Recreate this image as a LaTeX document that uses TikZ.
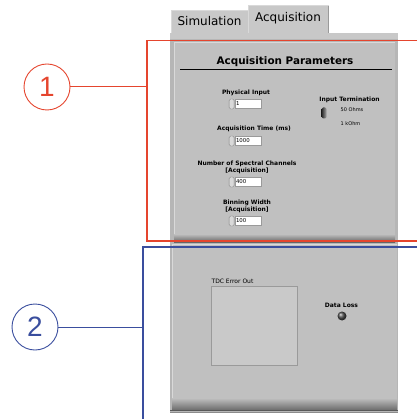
\documentclass[tikz,border=0pt]{standalone}
\usepackage{fontspec}
\setmainfont{DejaVu Sans}
\newfontfamily\numfont{Liberation Sans}
\usetikzlibrary{positioning}

\definecolor{calloutred}{HTML}{E5452E}
\definecolor{calloutblue}{HTML}{3A4E9E}
\definecolor{panelgray}{HTML}{C0C0C0}
\definecolor{tabgray}{HTML}{C8C8C8}
\definecolor{edgegray}{HTML}{9A9A9A}
\definecolor{boxgray}{HTML}{C9C9C9}

\tikzset{
  lbl/.style={font=\fontsize{6}{7.2}\selectfont\bfseries, align=center, inner sep=0pt},
  small/.style={font=\fontsize{5}{6}\selectfont, inner sep=0pt},
  numbox/.style={draw=edgegray, fill=white, minimum width=26pt, minimum height=9pt,
    inner sep=1pt, text width=24pt, align=left, font=\fontsize{5.4}{6}\selectfont},
  spinner/.style={draw=gray, fill=white!85!black, rounded corners=1.5pt,
    minimum width=5pt, minimum height=10pt, inner sep=0pt},
  tabtext/.style={font=\fontsize{12}{14}\selectfont, inner sep=0pt},
  callout/.style={circle, draw, line width=0.9pt, minimum size=46pt, inner sep=0pt,
    font=\fontsize{28}{28}\selectfont\numfont},
  bracket/.style={line width=1.4pt}
}

\begin{document}
\begin{tikzpicture}[x=1pt, y=-1pt]
  \useasboundingbox (0,0) rectangle (417,419);

  % tabs
  \draw[fill=tabgray, draw=white!85!black] (171,33) -- (171,10) -- (248,10) -- (248,33);
  \node[tabtext] (simtab) at (209.5,21.5) {Simulation};
  \draw[fill=tabgray, draw=white!85!black] (248,34) -- (248,5) -- (328,5) -- (328,34);
  \draw[edgegray] (328,6) -- (328,33);
  \node[tabtext] (acqtab) at (288,18.5) {Acquisition};

  % panel
  \fill[panelgray!95!black] (170,33) rectangle (398,413);
  \fill[tabgray] (170,33) rectangle (398,39);
  \fill[panelgray] (174,42) rectangle (395,241);
  \draw[white!85!black] (174,241) -- (174,42) -- (395,42);
  \shade[top color=panelgray, bottom color=gray!80!black] (174,234) rectangle (395,242);
  \fill[panelgray] (172,244) rectangle (397,405);
  \draw[white!85!black] (172,405) -- (172,244) -- (397,244);
  \shade[top color=panelgray, bottom color=gray!85!black] (172,398) rectangle (397,410);
  \draw[gray!70!black] (170,410.5) -- (398,410.5);
  \draw[gray!90] (170,412.5) -- (398,412.5);

  % acquisition parameters
  \node[font=\fontsize{10.4}{12}\selectfont\bfseries, inner sep=0pt] (title) at (285,62) {Acquisition Parameters};
  \draw[line width=0.8pt] (180,69) -- (392,69);

  \node[lbl] (physlbl) at (246,93) {Physical Input};
  \node[numbox] (physbox) at (248,104) {1};
  \node[spinner, left=0.5pt of physbox] (physspin) {};

  \node[lbl] (timelbl) at (254,129) {Acquisition Time (ms)};
  \node[numbox] (timebox) at (248,141) {1000};
  \node[spinner, left=0.5pt of timebox] (timespin) {};

  \node[lbl] (chanlbl) at (247,167.5) {Number of Spectral Channels\\{[Acquisition]}};
  \node[numbox] (chanbox) at (248,182) {400};
  \node[spinner, left=0.5pt of chanbox] (chanspin) {};

  \node[lbl] (binlbl) at (247,206.5) {Binning Width\\{[Acquisition]}};
  \node[numbox] (binbox) at (248,221) {100};
  \node[spinner, left=0.5pt of binbox] (binspin) {};

  \node[lbl] (termlbl) at (349.5,100) {Input Termination};
  \node[rounded corners=1.5pt, minimum width=5pt, minimum height=11pt, inner sep=0pt,
    left color=black!85, right color=gray!70] (termswitch) at (324,113) {};
  \node[small] (ohm50) at (352,109.5) {50 Ohms};
  \node[small] (kohm) at (350.5,124) {1 kOhm};

  % error output
  \node[small, font=\fontsize{6}{7}\selectfont] (errlbl) at (232.5,281.5) {TDC Error Out};
  \node[draw=edgegray, fill=boxgray, minimum width=86pt, minimum height=79pt,
    inner sep=0pt, anchor=north west] (errbox) at (211,286) {};
  \node[lbl] (losslbl) at (341.5,305) {Data Loss};
  \node[circle, minimum size=9pt, inner sep=0pt, ball color=black!70] (lossled) at (342,316) {};

  % callouts
  \draw[bracket, calloutred] (417,40.5) -- (147,40.5) -- (147,241) -- (417,241);
  \node[callout, calloutred] (one) at (47,87) {1};
  \coordinate (onejoin) at (147,87);
  \draw[calloutred, line width=1pt] (one) -- (onejoin);

  \draw[bracket, calloutblue] (417,247) -- (143,247) -- (143,419);
  \node[callout, calloutblue] (two) at (35,327) {2};
  \coordinate (twojoin) at (143,327);
  \draw[calloutblue, line width=1pt] (two) -- (twojoin);
\end{tikzpicture}
\end{document}
